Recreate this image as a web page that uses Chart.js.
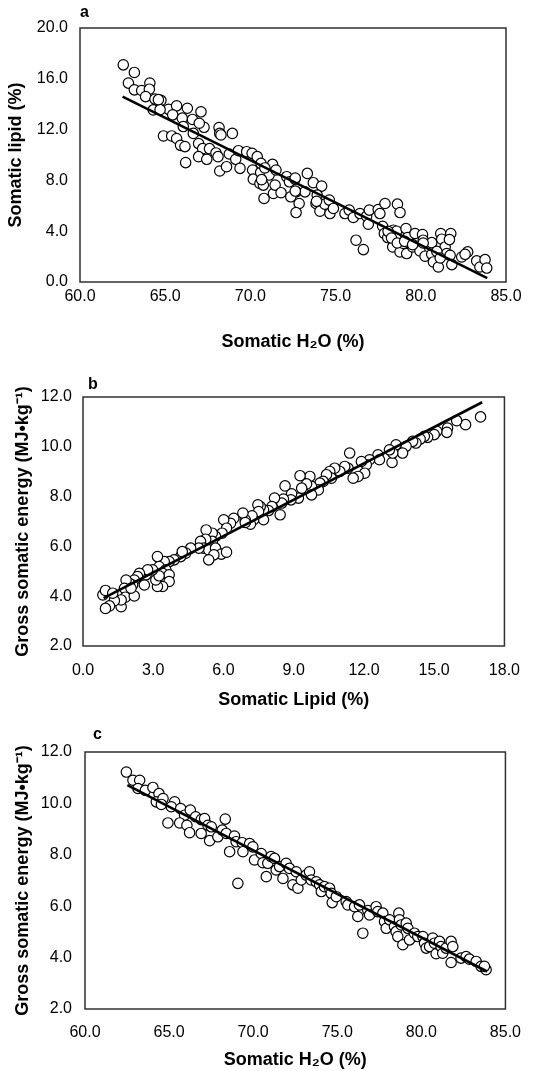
<!DOCTYPE html>
<html><head><meta charset="utf-8">
<script src="https://cdn.jsdelivr.net/npm/chart.js@4.4.0/dist/chart.umd.min.js"></script>
<style>
html,body{margin:0;padding:0;background:#fff;}
.wrap{position:absolute;left:0;width:535px;height:357px;}
</style></head><body>
<div class="wrap" style="top:0"><canvas id="ca" width="535" height="357"></canvas></div>
<div class="wrap" style="top:357px"><canvas id="cb" width="535" height="357"></canvas></div>
<div class="wrap" style="top:714px"><canvas id="cc" width="535" height="357"></canvas></div>
<script>
// ---- Panel a: Somatic H2O (%) vs Somatic lipid (%) ----
const aWater=[62.54,63.19,62.84,63.19,63.62,64.1,64.07,63.85,64.4,64.75,64.3,65.2,65.67,66.3,65.44,66.0,66.6,67.1,67.28,67.0,
66.06,66.65,64.9,65.38,65.67,65.9,66.16,66.2,66.96,67.2,67.6,66.96,67.44,68.16,68.2,68.27,68.94,67.98,68.1,68.2,
68.6,68.76,69.14,69.3,69.39,69.78,70.1,70.4,70.13,70.17,70.6,70.56,70.76,70.62,71.1,71.3,71.5,71.35,70.8,71.45,
71.8,72.13,72.29,72.62,72.68,72.37,72.86,72.68,73.34,73.2,73.69,74.18,73.92,73.85,74.08,74.37,74.67,74.63,74.87,75.55,
75.8,76.04,76.2,76.63,76.43,76.82,76.92,76.98,77.5,77.6,77.9,77.76,77.86,78.06,78.39,78.58,78.55,78.35,78.63,78.78,
78.78,78.98,79.13,79.23,79.17,79.66,79.52,79.95,80.1,80.14,80.25,80.64,80.64,80.74,81.03,81.17,81.23,81.43,81.52,81.72,
81.76,81.68,81.82,82.4,82.75,82.6,83.28,83.47,83.77,83.87,64.7,64.6,70.66,70.85,72.63,72.63,73.88,78.08,78.28,78.62,
79.05,79.52,80.14,80.94,81.14];
const aLipid=[17.1,16.5,15.66,15.13,15.08,15.66,15.18,14.6,14.4,14.3,13.55,13.6,13.87,13.68,13.16,12.9,12.8,13.4,12.18,12.5,
12.24,11.7,11.5,11.5,11.3,10.76,10.66,9.4,10.9,10.5,10.5,9.87,9.66,12.16,11.7,11.58,11.7,10.16,9.87,8.74,
9.08,10.08,9.66,10.34,8.95,10.26,10.13,9.87,8.82,8.1,8.63,7.76,7.63,9.34,8.42,9.26,8.82,6.97,6.58,7.63,
7.03,8.29,7.89,8.1,7.1,6.71,6.18,5.47,8.55,7.1,7.82,7.55,6.84,6.18,5.58,6.13,5.39,6.45,5.79,5.39,
5.66,5.08,3.29,2.55,5.39,5.18,4.55,5.66,5.71,5.39,6.18,4.39,3.82,3.5,4.08,4.0,3.42,2.76,6.13,5.47,
2.37,3.03,4.21,3.5,2.24,3.82,2.76,2.45,3.74,3.29,2.03,2.18,3.1,1.58,1.18,3.82,3.37,2.76,2.24,2.1,
3.82,3.34,1.37,1.97,2.37,2.18,1.66,1.18,1.76,1.1,13.57,14.36,8.06,8.98,8.19,7.16,6.35,3.99,3.46,3.07,
3.2,2.94,3.07,2.41,1.89];
const aFitWater=[62.5,83.9];
const aFitLipid=[14.6,0.3];

// ---- Panel b: Somatic Lipid (%) vs Gross somatic energy ----
const bLipid=[16.98,16.34,15.96,15.57,15.54,15.11,15.0,14.72,14.58,14.4,14.22,14.08,13.8,13.65,13.37,13.2,13.23,13.09,12.6,12.66,
12.24,12.1,11.89,12.03,11.75,11.54,11.39,11.32,11.18,10.97,10.75,10.54,10.61,10.4,10.26,10.12,10.05,9.76,9.76,9.69,
9.55,9.34,9.27,9.2,8.91,8.88,8.63,8.56,8.49,8.42,8.18,8.07,7.92,7.71,7.57,7.47,7.5,7.71,7.29,7.15,
7.22,6.93,6.83,6.93,6.44,6.3,6.01,6.13,5.94,5.66,5.52,5.52,5.26,5.24,5.02,5.16,5.37,5.66,5.91,6.13,
5.59,5.37,4.95,4.6,4.39,4.17,4.24,3.89,3.68,3.47,3.18,3.25,3.54,3.4,3.68,3.68,3.4,3.18,3.11,3.25,
2.97,2.69,2.62,2.76,2.41,2.33,2.19,2.12,1.98,1.84,1.77,1.81,2.19,2.05,1.63,1.63,1.34,1.13,0.96,0.85,
0.96,1.27];
const bEnergy=[11.2,10.89,11.05,10.75,10.58,10.62,10.49,10.38,10.42,10.31,10.15,10.22,10.02,9.75,10.08,9.37,9.75,9.88,9.68,9.48,
9.48,9.28,9.41,8.94,8.81,8.74,9.75,9.14,9.21,9.01,9.14,9.01,8.74,8.88,8.61,8.54,8.27,8.41,8.07,8.81,
8.51,8.34,8.84,7.94,8.11,7.87,8.43,7.9,7.74,7.27,7.94,7.6,7.44,7.47,7.6,7.67,7.4,7.07,7.07,6.89,
7.23,7.07,7.34,6.96,7.13,6.93,7.07,6.73,6.53,6.4,6.53,6.2,6.66,6.29,6.2,5.93,5.86,5.93,5.69,5.77,
5.66,5.46,5.93,5.93,5.73,5.59,5.79,5.46,5.39,5.39,5.59,5.19,5.06,4.92,4.86,4.59,4.39,4.39,4.65,4.82,
5.06,4.86,4.45,5.06,4.92,4.79,4.65,4.45,4.52,4.65,4.32,3.96,4.01,4.32,3.58,3.85,3.82,3.61,3.51,4.05,
4.23,4.12];
const bFitLipid=[0.88,17.05];
const bFitEnergy=[3.92,11.79];

// ---- Panel c: Somatic H2O (%) vs Gross somatic energy ----
const cWater=[62.46,62.85,63.25,63.15,63.59,64.04,64.4,64.24,64.64,64.54,65.33,65.13,64.93,65.69,65.92,66.26,65.63,66.06,66.22,66.58,
66.91,67.11,66.91,67.31,67.51,67.41,67.9,68.16,68.34,68.4,68.6,68.89,69.09,68.99,69.35,69.39,69.79,69.98,70.08,70.48,
70.58,70.87,70.78,71.07,71.27,71.37,71.57,71.77,71.96,72.16,72.36,72.56,72.66,72.86,73.15,73.35,73.45,73.75,73.95,74.05,
74.24,74.54,74.64,74.7,74.94,75.53,75.63,76.03,76.22,76.32,76.52,76.82,76.92,77.31,77.41,77.71,77.81,77.91,78.11,78.4,
78.5,78.66,78.7,78.8,78.6,78.9,79.1,79.2,79.3,79.59,79.79,80.09,80.19,80.29,80.49,80.68,80.78,80.88,81.08,81.17,
81.27,81.47,81.77,81.87,81.77,82.36,82.66,82.86,83.26,83.55,83.85,83.75];
const cEnergy=[11.22,10.9,10.9,10.58,10.51,10.62,10.38,10.06,10.19,9.96,10.06,9.87,9.24,9.8,9.54,9.74,9.24,9.15,8.86,9.48,
9.37,9.41,8.83,9.15,9.09,8.55,8.7,8.96,9.39,8.83,8.12,8.73,6.89,8.51,8.47,8.12,8.44,8.31,7.8,8.05,
7.69,7.67,7.15,7.93,7.86,7.41,7.54,7.08,7.67,7.47,6.83,7.34,6.7,7.02,7.21,7.34,7.02,6.95,6.83,6.57,
6.76,6.7,6.5,6.14,6.37,6.18,6.05,5.98,5.6,6.05,4.95,5.83,5.66,5.98,5.79,5.73,5.4,5.14,5.47,5.21,
5.01,5.73,5.47,5.27,4.82,4.5,5.34,5.14,4.69,4.95,4.82,4.82,4.56,4.37,4.43,4.76,4.56,4.15,4.63,4.43,
4.17,4.37,4.63,4.43,3.81,3.98,4.04,3.94,3.85,3.66,3.53,3.66];
const cFitWater=[62.52,83.91];
const cFitEnergy=[10.71,3.46];

// ---- tick settings ----
const aXTicks=[60,85,5], aYTicks=[0,20,4];
const bXTicks=[0,18,3], bYTicks=[2,12,2];
const cXTicks=[60,85,5], cYTicks=[2,12,2];

const FONT='"Liberation Sans", Arial, Helvetica, sans-serif';

const boxPlugin={
  id:'box',
  afterDatasetsDraw(chart,args,o){
    const {ctx,chartArea:a}=chart;
    ctx.save();
    ctx.strokeStyle='#303030';ctx.lineWidth=1.5;
    ctx.strokeRect(a.left,a.top,a.right-a.left,a.bottom-a.top);
    ctx.fillStyle='#000';ctx.font='bold 16px '+FONT;
    ctx.textAlign='left';ctx.textBaseline='middle';
    ctx.fillText(o.letter,a.left+o.dx,a.top-o.dy);
    ctx.restore();
  }
};

function pairs(xs,ys){return xs.map((x,i)=>({x:x,y:ys[i]}));}

function makeChart(id,L){
  new Chart(document.getElementById(id),{
    type:'scatter',
    data:{datasets:[
      {type:'line',data:pairs(L.fx,L.fy),borderColor:'#000',borderWidth:2.6,pointRadius:0,showLine:true,fill:false,order:0},
      {type:'scatter',data:pairs(L.xs,L.ys),pointRadius:5.2,pointBorderWidth:1.2,borderColor:'#000',backgroundColor:'#fff',
       pointBackgroundColor:'#fff',pointBorderColor:'#000',order:1}
    ]},
    options:{
      responsive:false,animation:false,
      layout:{padding:{top:L.top,right:L.right,left:0,bottom:0}},
      plugins:{legend:{display:false},tooltip:{enabled:false},box:{letter:L.letter,dx:L.ldx,dy:L.ldy}},
      scales:{
        x:{type:'linear',position:'bottom',min:L.xt[0],max:L.xt[1],
          ticks:{stepSize:L.xt[2],padding:L.xpad,color:'#000',font:{size:16,family:FONT},maxRotation:0,autoSkip:false,
            callback:v=>Number(v).toFixed(1)},
          grid:{display:false,drawTicks:false},border:{display:false},
          title:{display:true,text:L.xTitle,color:'#000',font:{size:18,weight:'bold',family:FONT},padding:{top:0,bottom:L.xtb}},
          afterFit(s){s.height=L.xh;}},
        y:{type:'linear',position:'left',min:L.yt[0],max:L.yt[1],
          ticks:{stepSize:L.yt[2],padding:L.ypad,color:'#000',font:{size:16,family:FONT},autoSkip:false,
            callback:v=>Number(v).toFixed(1)},
          grid:{display:false,drawTicks:false},border:{display:false},
          title:{display:true,text:L.yTitle,color:'#000',font:{size:18,weight:'bold',family:FONT},padding:{top:L.ytp,bottom:0}},
          afterFit(s){s.width=L.yw;}}
      }
    },
    plugins:[boxPlugin]
  });
}

makeChart('ca',{xs:aWater,ys:aLipid,fx:aFitWater,fy:aFitLipid,xt:aXTicks,yt:aYTicks,
  xTitle:'Somatic H₂O (%)',yTitle:'Somatic lipid (%)',letter:'a',ldx:0,ldy:15,
  top:28,right:29,xh:75,yw:80,xpad:5,ypad:12,xtb:4,ytp:5});
makeChart('cb',{xs:bLipid,ys:bEnergy,fx:bFitLipid,fy:bFitEnergy,xt:bXTicks,yt:bYTicks,
  xTitle:'Somatic Lipid (%)',yTitle:'Gross somatic energy (MJ•kg⁻¹)',letter:'b',ldx:5,ldy:12,
  top:40,right:28,xh:68,yw:83,xpad:15,ypad:11,xtb:3,ytp:12});
makeChart('cc',{xs:cWater,ys:cEnergy,fx:cFitWater,fy:cFitEnergy,xt:cXTicks,yt:cYTicks,
  xTitle:'Somatic H₂O (%)',yTitle:'Gross somatic energy (MJ•kg⁻¹)',letter:'c',ldx:8,ldy:17,
  top:38,right:29,xh:62,yw:85,xpad:14,ypad:13,xtb:0,ytp:12});
</script>
</body></html>
